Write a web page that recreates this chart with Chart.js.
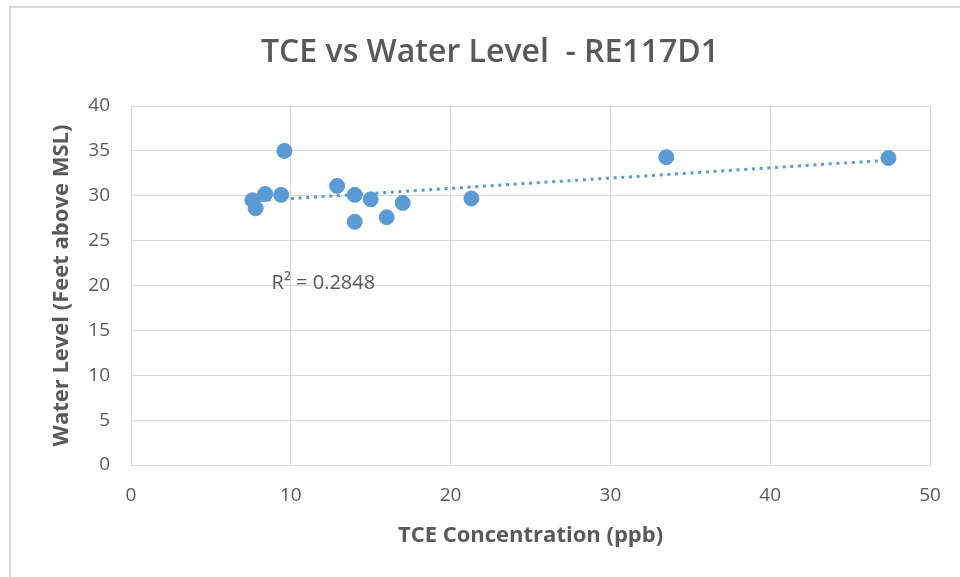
<!DOCTYPE html>
<html>
<head>
<meta charset="utf-8">
<script src="https://cdn.jsdelivr.net/npm/chart.js@4.4.1/dist/chart.umd.min.js"></script>
<style>
  html, body { margin: 0; padding: 0; background: #fff; overflow: hidden; }
  #frame {
    position: absolute; left: 9px; top: 6px;
    width: 960px; height: 580px;
    border-left: 2px solid #d9d9d9; border-top: 2px solid #d9d9d9;
  }
  #chart { position: absolute; left: 0; top: 8px; }
</style>
</head>
<body>
<div id="frame"></div>
<canvas id="chart" width="960" height="569"></canvas>
<script>
// TCE concentration (ppb) vs water level (feet above MSL), well RE117D1
var tceConc    = [7.6, 7.8, 8.4, 9.4, 9.6, 12.9, 14.0, 14.0, 15.0, 16.0, 17.0, 21.3, 33.5, 47.4];
var waterLevel = [29.5, 28.6, 30.2, 30.1, 35.0, 31.1, 30.1, 27.1, 29.6, 27.6, 29.2, 29.7, 34.3, 34.2];
var xTicks = [0, 10, 20, 30, 40, 50];
var yTicks = [0, 5, 10, 15, 20, 25, 30, 35, 40];
var rSquaredText = "R\u00b2 = 0.2848";
var rSquaredAt = { x: 8.8, y: 20.3 };

var blue = '#5b9bd5';
var grey = '#595959';
var gridGrey = '#d9d9d9';

// least squares trendline through the points
function linearFit(xs, ys) {
    var n = xs.length, sx = 0, sy = 0, sxx = 0, sxy = 0;
    for (var i = 0; i < n; ++i) {
        sx += xs[i]; sy += ys[i];
        sxx += xs[i] * xs[i]; sxy += xs[i] * ys[i];
    }
    var slope = (n * sxy - sx * sy) / (n * sxx - sx * sx);
    return { slope: slope, intercept: (sy - slope * sx) / n };
}

var points = tceConc.map(function (x, i) { return { x: x, y: waterLevel[i] }; });
var fit = linearFit(tceConc, waterLevel);
var xMin = Math.min.apply(null, tceConc), xMax = Math.max.apply(null, tceConc);
var trend = [xMin, xMax].map(function (x) { return { x: x, y: fit.intercept + fit.slope * x }; });

var rSquaredLabel = {
    id: 'rSquaredLabel',
    afterDatasetsDraw: function (chart) {
        var ctx = chart.ctx;
        ctx.save();
        ctx.font = '20px "Open Sans"';
        ctx.fillStyle = grey;
        ctx.textAlign = 'left';
        ctx.textBaseline = 'middle';
        ctx.fillText(rSquaredText, chart.scales.x.getPixelForValue(rSquaredAt.x), chart.scales.y.getPixelForValue(rSquaredAt.y));
        ctx.restore();
    }
};

var ctx = document.getElementById('chart').getContext('2d');
new Chart(ctx, {
    type: 'scatter',
    data: {
        datasets: [{
            label: 'Water Level',
            data: points,
            backgroundColor: blue,
            borderColor: blue,
            pointRadius: 7.5,
            pointHoverRadius: 7.5,
            order: 1
        }, {
            label: 'Linear trend',
            data: trend,
            showLine: true,
            borderColor: blue,
            borderWidth: 3,
            borderDash: [3, 4.7],
            borderCapStyle: 'butt',
            pointRadius: 0,
            order: 2
        }]
    },
    options: {
        responsive: false,
        animation: false,
        layout: { padding: { left: 50, right: 30, top: 0, bottom: 0 } },
        plugins: {
            legend: { display: false },
            tooltip: { enabled: false },
            title: {
                display: true,
                text: 'TCE vs Water Level  - RE117D1',
                color: grey,
                font: { family: 'Open Sans', size: 32, weight: '600', lineHeight: 1.2 },
                padding: { top: 26, bottom: 33.6 }
            }
        },
        scales: {
            x: {
                type: 'linear',
                min: 0, max: 50,
                afterBuildTicks: function (scale) { scale.ticks = xTicks.map(function (v) { return { value: v }; }); },
                afterFit: function (scale) { scale.height = 112; },
                grid: { color: gridGrey, drawTicks: false },
                border: { color: gridGrey },
                ticks: { color: grey, padding: 19, font: { family: 'Open Sans', size: 19 } },
                title: {
                    display: true,
                    text: 'TCE Concentration (ppb)',
                    color: grey,
                    font: { family: 'Open Sans', size: 22, weight: 'bold', lineHeight: 1.2 },
                    padding: { top: 0, bottom: 28 }
                }
            },
            y: {
                type: 'linear',
                min: 0, max: 40,
                afterBuildTicks: function (scale) { scale.ticks = yTicks.map(function (v) { return { value: v }; }); },
                afterFit: function (scale) { scale.width = 81; },
                grid: { color: gridGrey, drawTicks: false },
                border: { color: gridGrey },
                ticks: { color: grey, padding: 21, font: { family: 'Open Sans', size: 19 } },
                title: {
                    display: true,
                    text: 'Water Level (Feet above MSL)',
                    color: grey,
                    font: { family: 'Open Sans', size: 22, weight: 'bold', lineHeight: 1 },
                    padding: { top: 1, bottom: 0 }
                }
            }
        }
    },
    plugins: [rSquaredLabel]
});
</script>
</body>
</html>
